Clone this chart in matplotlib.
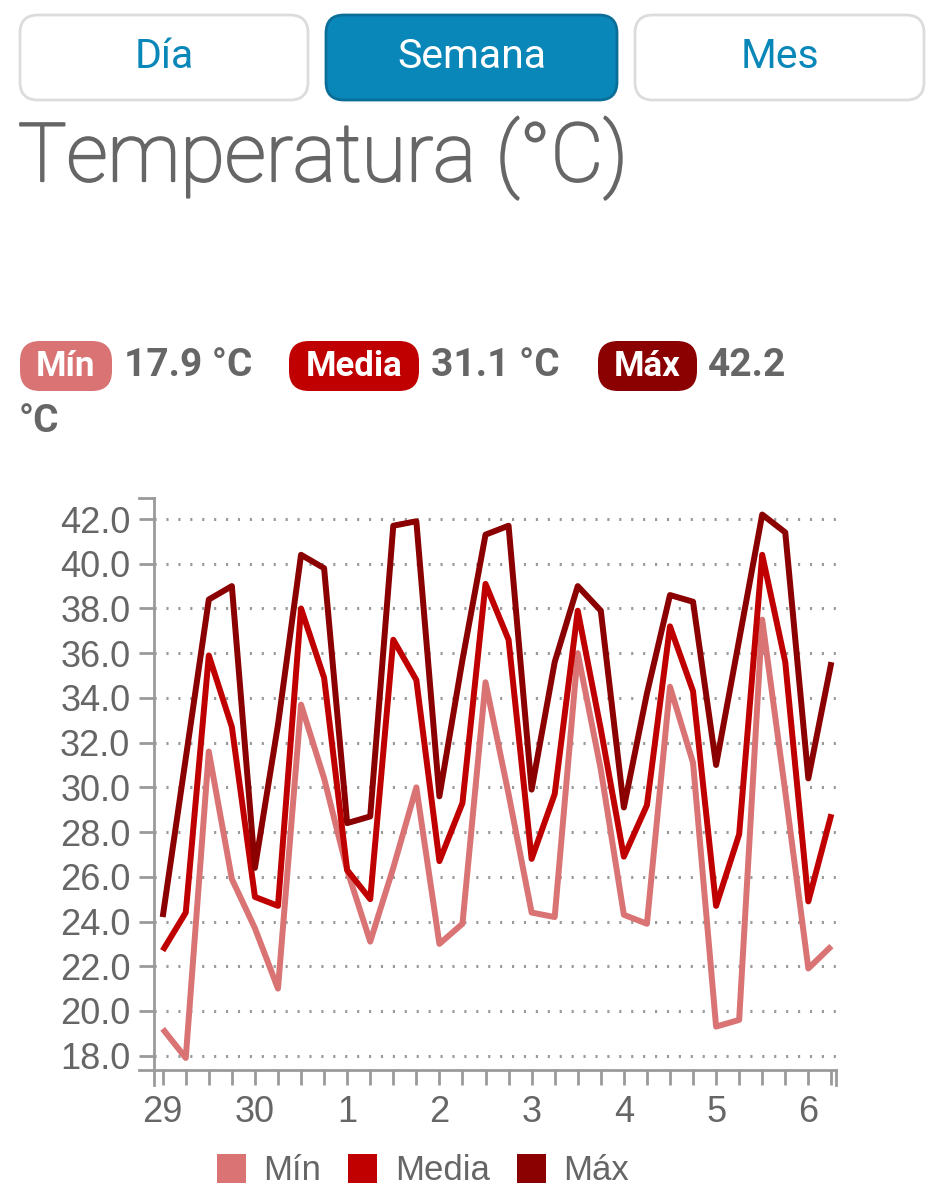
import matplotlib
matplotlib.use("Agg")
import matplotlib.pyplot as plt
import matplotlib.patheffects as pe
from matplotlib.patches import FancyBboxPatch, Rectangle
import numpy as np

# ---------------- data ----------------
day_labels = ["29", "30", "1", "2", "3", "4", "5", "6"]
points_per_day = 4  # one value every 6 hours
t_max = [24.2, 31.3, 38.4, 39.0, 26.4, 32.8, 40.4, 39.8, 28.4, 28.7,
         41.7, 41.9, 29.6, 35.7, 41.3, 41.7, 29.9, 35.6, 39.0, 37.9,
         29.1, 34.2, 38.6, 38.3, 31.0, 36.6, 42.2, 41.4, 30.4, 35.6]
t_media = [22.7, 24.4, 35.9, 32.7, 25.1, 24.7, 38.0, 34.9, 26.3, 25.0,
           36.6, 34.8, 26.7, 29.3, 39.1, 36.6, 26.8, 29.7, 37.9, 32.6,
           26.9, 29.2, 37.2, 34.3, 24.7, 27.9, 40.4, 35.6, 24.9, 28.8]
t_min = [19.2, 17.9, 31.6, 25.9, 23.7, 21.0, 33.7, 30.4, 26.3, 23.1,
         26.4, 30.0, 23.0, 23.9, 34.7, 29.7, 24.4, 24.2, 36.0, 30.8,
         24.3, 23.9, 34.5, 31.1, 19.3, 19.6, 37.5, 29.8, 21.9, 22.9]
series_names = ["Mín", "Media", "Máx"]
summary_values = ["17.9 °C", "31.1 °C", "42.2"]
y_ticks = [18.0, 20.0, 22.0, 24.0, 26.0, 28.0, 30.0, 32.0, 34.0, 36.0, 38.0, 40.0, 42.0]
buttons = ["Día", "Semana", "Mes"]
title = "Temperatura (°C)"

# ---------------- style ----------------
C_MIN = "#D97374"
C_MED = "#C00000"
C_MAX = "#8B0000"
GRAY = "#666666"
AXC = "#9A9A9A"
BLUE = "#0A87B9"

W, H = 938, 1200
fig = plt.figure(figsize=(W / 100, H / 100), dpi=100)
fig.patch.set_facecolor("white")

# overlay in pixel coordinates
ov = fig.add_axes([0, 0, 1, 1], zorder=0)
ov.set_xlim(0, W)
ov.set_ylim(H, 0)
ov.axis("off")
ov.patch.set_alpha(0)

# buttons
btn_boxes = [(20, 308), (326, 617), (635, 924)]
for i, (lbl, (x0, x1)) in enumerate(zip(buttons, btn_boxes)):
    active = (i == 1)
    fc = BLUE if active else "white"
    ec = "#0A6F98" if active else "#DCDCDC"
    ov.add_patch(FancyBboxPatch((x0, 15), x1 - x0, 85,
                                boxstyle="round,pad=0,rounding_size=18",
                                fc=fc, ec=ec, lw=2))
    ov.text((x0 + x1) / 2, 57, lbl, ha="center", va="center",
            fontsize=29.5, family="Roboto", color="white" if active else BLUE)

# title
ov.text(18, 158, title, ha="left", va="center", fontsize=58.5,
        family="Roboto", fontweight="light", color=GRAY,
        path_effects=[pe.withStroke(linewidth=1.6, foreground=GRAY)])

# summary badges
badges = [(20, 112, C_MIN, 124), (289, 419, C_MED, 431), (598, 697, C_MAX, 708)]
for name, val, (x0, x1, col, tx) in zip(series_names, summary_values, badges):
    ov.add_patch(FancyBboxPatch((x0, 341), x1 - x0, 50,
                                boxstyle="round,pad=0,rounding_size=20",
                                fc=col, ec="none"))
    ov.text((x0 + x1) / 2, 366, name, ha="center", va="center",
            fontsize=25, family="Roboto", fontweight="bold", color="white")
    ov.text(tx, 366, val, ha="left", va="center",
            fontsize=28, family="Roboto", fontweight="bold", color=GRAY)
ov.text(19, 421, "°C", ha="left", va="center",
        fontsize=28, family="Roboto", fontweight="bold", color=GRAY)

# legend
leg = [(217, 263, C_MIN), (348, 395, C_MED), (517, 563, C_MAX)]
for name, (sx, tx, col) in zip(series_names, leg):
    ov.add_patch(Rectangle((sx, 1154), 29, 29, fc=col, ec="none"))
    ov.text(tx, 1170, name, ha="left", va="center", fontsize=25,
            family="Liberation Sans", color=GRAY)

# ---------------- chart ----------------
ax_l, ax_r, ax_t, ax_b = 154, 836, 498, 1070
ax = fig.add_axes([ax_l / W, 1 - ax_b / H, (ax_r - ax_l) / W, (ax_b - ax_t) / H], zorder=2)
ax.patch.set_alpha(0)

x = np.arange(len(t_max))
for vals, col in [(t_min, C_MIN), (t_media, C_MED), (t_max, C_MAX)]:
    ax.plot(x, vals, color=col, lw=4.3, solid_joinstyle="round",
            solid_capstyle="butt", zorder=3)

ax.set_xlim(-0.377, 29.2)
ax.set_ylim(17.36, 42.94)

ax.set_yticks(y_ticks)
ax.set_yticklabels([f"{v:.1f}" for v in y_ticks])
ax.set_xticks(np.arange(0, len(t_max)))
ax.set_xticklabels([day_labels[i // points_per_day] if i % points_per_day == 0 else ""
                    for i in range(len(t_max))])

for lab in ax.get_xticklabels() + ax.get_yticklabels():
    lab.set_family("Liberation Sans")
    lab.set_fontsize(26)
    lab.set_color(GRAY)

ax.tick_params(axis="both", length=11, width=2, color=AXC, direction="out")
ax.tick_params(axis="y", pad=6)
ax.tick_params(axis="x", pad=7)

ax.grid(axis="y", color=AXC, lw=2.2, linestyle=(0, (0.7, 3.2)))
ax.grid(axis="x", visible=False)

for s in ["top", "right"]:
    ax.spines[s].set_visible(False)
for s in ["left", "bottom"]:
    ax.spines[s].set_color(AXC)
    ax.spines[s].set_linewidth(2)

# outer (domain) ticks at the ends of the axes
tl_x = 11 / 72 * 100 / (ax_r - ax_l)
tl_y = 11 / 72 * 100 / (ax_b - ax_t)
ax.plot([-tl_x, 0], [1, 1], transform=ax.transAxes, color=AXC, lw=2, clip_on=False)
ax.plot([-tl_x, 0], [0, 0], transform=ax.transAxes, color=AXC, lw=2, clip_on=False)
ax.plot([0, 0], [0, -tl_y], transform=ax.transAxes, color=AXC, lw=2, clip_on=False)
ax.plot([1, 1], [0, -tl_y], transform=ax.transAxes, color=AXC, lw=2, clip_on=False)

fig.savefig("out.png", dpi=100, facecolor="white")
